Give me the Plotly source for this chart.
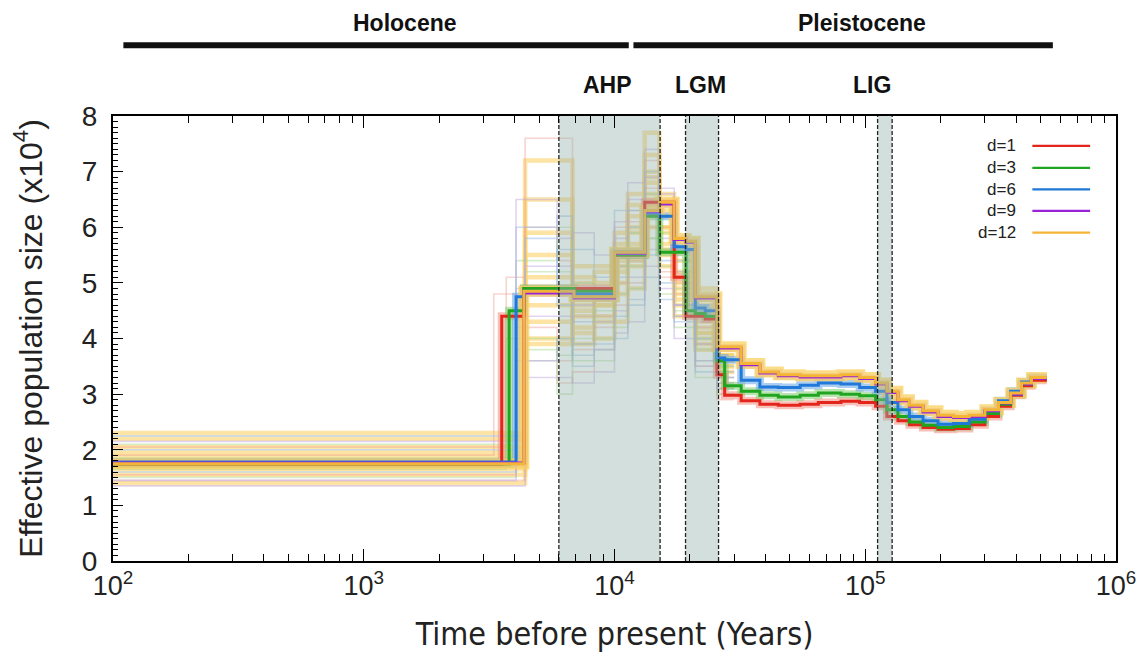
import plotly.graph_objects as go

# ---------------------------------------------------------------
# Step-wise effective population size (units of 10^4) through time
# ---------------------------------------------------------------

# start of each step (years before present) for the main estimates
T_MAIN = [100, 3550, 3800, 4050, 4350, 6900, 8300, 10000, 11300, 13200,
          15100, 17300, 19300, 21000, 23000, 25600, 27500, 32000, 38000, 45000,
          55000, 65000, 80000, 95000, 110000, 122000, 135000, 150000, 170000, 195000,
          225000, 260000, 300000, 340000, 380000, 420000, 460000]
T_MAIN_END = 530000

ne_d1 = [1.75, 4.40, 4.40, 4.40, 4.90, 4.90, 4.90, 5.50, 5.50, 6.45,
         6.45, 5.10, 4.40, 4.40, 4.35, 3.35, 2.98, 2.88, 2.82, 2.80,
         2.82, 2.85, 2.87, 2.85, 2.78, 2.60, 2.52, 2.45, 2.40, 2.37,
         2.38, 2.45, 2.60, 2.78, 2.98, 3.15, 3.25]
ne_d3 = [1.75, 1.75, 4.50, 4.50, 4.90, 4.85, 4.85, 5.50, 5.50, 6.20,
         5.55, 5.55, 4.50, 4.45, 4.40, 3.60, 3.15, 3.05, 2.98, 2.95,
         2.98, 3.02, 3.00, 2.97, 2.90, 2.72, 2.60, 2.50, 2.44, 2.40,
         2.42, 2.50, 2.65, 2.82, 3.00, 3.18, 3.28]
ne_d6 = [1.78, 1.78, 1.78, 4.75, 4.85, 4.80, 4.80, 5.55, 5.55, 6.25,
         6.20, 5.65, 5.60, 4.55, 4.50, 3.65, 3.62, 3.25, 3.13, 3.12,
         3.16, 3.20, 3.18, 3.12, 3.05, 2.85, 2.72, 2.60, 2.52, 2.46,
         2.47, 2.55, 2.70, 2.88, 3.05, 3.22, 3.30]
ne_d9 = [1.76, 1.76, 1.76, 1.76, 4.82, 4.73, 4.73, 5.53, 5.53, 6.28,
         6.42, 5.78, 5.73, 4.73, 4.73, 3.83, 3.83, 3.53, 3.38, 3.33,
         3.31, 3.31, 3.33, 3.28, 3.18, 3.03, 2.88, 2.78, 2.68, 2.60,
         2.58, 2.60, 2.70, 2.84, 3.00, 3.18, 3.28]
ne_d12 = [1.75, 1.75, 1.75, 1.75, 4.85, 4.75, 4.75, 5.55, 5.55, 6.30,
          6.45, 5.80, 5.75, 4.75, 4.75, 3.85, 3.85, 3.55, 3.40, 3.35,
          3.33, 3.33, 3.35, 3.30, 3.20, 3.05, 2.90, 2.80, 2.70, 2.62,
          2.60, 2.62, 2.72, 2.85, 3.02, 3.20, 3.30]

# bootstrap replicates (recent part of the history, where they spread out)
T_BOOT = [100, 3300, 3700, 4050, 4400, 5900, 6800, 8300, 10000, 11300,
          13200, 15100, 17300, 21000, 25600]
T_BOOT_END = 30000

boot_d1 = [
    [2.05, 2.05, 5.10, 5.10, 7.60, 7.60, 4.90, 4.90, 5.30, 6.10, 7.20, 5.20, 4.40, 3.90, 3.10],
    [1.55, 1.55, 1.55, 4.20, 4.20, 3.20, 3.40, 4.20, 5.00, 5.00, 6.00, 5.60, 4.60, 3.60, 3.00],
    [1.90, 4.80, 4.80, 4.80, 6.00, 5.40, 4.40, 4.40, 6.00, 6.30, 6.70, 5.10, 4.80, 4.20, 3.20],
    [1.45, 1.45, 1.45, 1.45, 3.60, 3.60, 3.80, 3.80, 4.60, 5.40, 6.20, 6.00, 5.00, 3.50, 2.90],
]
boot_d3 = [
    [2.10, 2.10, 2.10, 5.40, 5.40, 6.00, 5.00, 4.70, 5.50, 5.90, 6.60, 5.30, 4.90, 4.00, 3.30],
    [1.65, 1.65, 4.00, 4.00, 4.00, 3.70, 4.00, 4.50, 4.80, 5.50, 6.20, 5.90, 4.50, 3.80, 3.10],
    [1.85, 1.85, 1.85, 1.85, 5.20, 5.20, 3.60, 3.60, 4.20, 4.90, 5.80, 6.40, 5.20, 4.40, 3.40],
    [1.50, 1.50, 1.50, 3.80, 3.80, 3.00, 3.90, 4.00, 5.30, 5.30, 5.80, 4.80, 4.20, 3.30, 3.00],
]
boot_d6 = [
    [2.00, 2.00, 2.00, 6.00, 6.00, 6.20, 5.60, 5.10, 6.30, 6.30, 7.00, 6.20, 5.40, 4.60, 3.50],
    [1.60, 1.60, 1.60, 3.60, 3.60, 4.00, 3.50, 3.80, 4.40, 4.60, 5.50, 5.00, 4.30, 3.60, 3.20],
    [1.70, 1.70, 1.70, 4.90, 4.90, 5.60, 4.30, 4.70, 5.10, 6.00, 6.30, 5.40, 4.40, 4.00, 3.30],
    [2.25, 2.25, 2.25, 2.25, 5.80, 4.60, 3.70, 3.90, 4.00, 4.70, 5.10, 4.70, 4.60, 3.40, 3.10],
]
boot_d9 = [
    [1.45, 1.45, 1.45, 6.50, 6.50, 5.80, 5.90, 5.50, 6.10, 6.50, 7.40, 6.60, 5.50, 4.80, 3.60],
    [1.80, 1.80, 1.80, 1.80, 4.40, 4.40, 3.90, 4.30, 4.50, 5.10, 5.60, 5.80, 4.60, 3.90, 3.30],
    [1.35, 1.35, 1.35, 1.35, 3.30, 3.30, 3.20, 3.40, 4.10, 4.30, 5.30, 4.90, 4.00, 3.50, 3.10],
    [2.15, 2.15, 2.15, 2.15, 5.30, 5.30, 4.60, 4.90, 5.80, 6.80, 6.90, 6.70, 5.20, 4.30, 3.40],
]
boot_d12 = [
    [2.30, 2.30, 2.30, 2.30, 7.20, 7.20, 5.30, 5.30, 5.90, 6.60, 7.70, 6.60, 5.60, 4.90, 3.80],
    [2.20, 2.20, 2.20, 2.20, 6.50, 6.50, 5.00, 5.20, 5.70, 5.70, 7.30, 6.30, 5.20, 4.50, 3.70],
    [1.40, 1.40, 1.40, 1.40, 3.90, 3.90, 4.10, 4.00, 4.30, 4.90, 6.60, 6.00, 5.00, 4.10, 3.50],
    [2.05, 2.05, 2.05, 2.05, 5.50, 5.50, 4.40, 4.60, 5.20, 6.00, 7.00, 6.20, 5.40, 4.60, 3.60],
    [1.55, 1.55, 1.55, 1.55, 4.60, 4.60, 3.90, 4.30, 4.80, 5.30, 6.80, 5.70, 4.80, 3.90, 3.40],
    [1.95, 1.95, 1.95, 1.95, 5.10, 5.10, 4.60, 4.80, 5.50, 5.90, 6.20, 5.90, 4.90, 4.00, 3.70],
    [1.65, 1.65, 1.65, 1.65, 4.30, 4.30, 4.50, 4.40, 5.00, 5.60, 6.40, 5.50, 4.60, 4.20, 3.60],
    [1.88, 1.88, 1.88, 1.88, 5.90, 5.90, 5.10, 5.00, 5.60, 6.20, 6.00, 5.30, 4.40, 3.80, 3.50],
    [1.72, 1.72, 1.72, 1.72, 4.00, 4.00, 4.80, 4.60, 5.40, 5.40, 6.50, 6.00, 5.10, 4.30, 3.60],
    [1.80, 1.80, 1.80, 1.80, 4.90, 4.90, 4.20, 4.70, 5.30, 6.40, 6.90, 5.60, 4.70, 4.10, 3.70],
]

series_labels = ["d=1", "d=3", "d=6", "d=9", "d=12"]

# climatic periods (years before present)
AHP = [6000, 15200]
LGM = [19200, 26000]
LIG = [112000, 128000]
HOLOCENE = [110, 11400]
PLEISTOCENE = [11900, 560000]

x_tickvals = [1e2, 1e3, 1e4, 1e5, 1e6]
x_ticktext = ["10<sup>2</sup>", "10<sup>3</sup>", "10<sup>4</sup>", "10<sup>5</sup>", "10<sup>6</sup>"]
Y_MAX = 8

# ---------------------------------------------------------------
main_colors = ["#e3261c", "#1fa51f", "#2079d8", "#9b22d9", "#f4b436"]
band_colors = ["rgba(242,140,128,0.55)", "rgba(130,205,110,0.55)", "rgba(115,172,232,0.6)",
               "rgba(195,150,225,0.45)", "rgba(250,208,95,0.75)"]
boot_colors = ["rgba(240,160,150,0.45)", "rgba(160,215,140,0.45)", "rgba(150,188,230,0.5)",
               "rgba(195,170,225,0.5)", "rgba(252,210,105,0.6)"]
boot_widths = [1.6, 1.6, 1.6, 1.6, 4.5]
band_widths = [8, 8, 8, 8, 11]

main_values = [ne_d1, ne_d3, ne_d6, ne_d9, ne_d12]
boot_values = [boot_d1, boot_d3, boot_d6, boot_d9, boot_d12]


def step_xy(times, values, end):
    return list(times) + [end], list(values) + [values[-1]]


fig = go.Figure()

# bootstrap replicates, the wider yellow ones first so thin ones stay visible
for idx in (4, 0, 1, 2, 3):
    for rep in boot_values[idx]:
        xs, ys = step_xy(T_BOOT, rep, T_BOOT_END)
        fig.add_trace(go.Scatter(x=xs, y=ys, mode="lines", line_shape="hv",
                                 line=dict(color=boot_colors[idx], width=boot_widths[idx]),
                                 hoverinfo="skip", showlegend=False))

# soft bands beneath the main estimates
for vals, col, w in zip(main_values, band_colors, band_widths):
    xs, ys = step_xy(T_MAIN, vals, T_MAIN_END)
    fig.add_trace(go.Scatter(x=xs, y=ys, mode="lines", line_shape="hv",
                             line=dict(color=col, width=w),
                             hoverinfo="skip", showlegend=False))

# main estimates
for vals, col, name in zip(main_values, main_colors, series_labels):
    xs, ys = step_xy(T_MAIN, vals, T_MAIN_END)
    fig.add_trace(go.Scatter(x=xs, y=ys, mode="lines", line_shape="hv",
                             line=dict(color=col, width=3), name=name,
                             showlegend=False))

# shaded climatic periods with dashed edges
for lo, hi in (AHP, LGM, LIG):
    fig.add_trace(go.Scatter(x=[lo, hi, hi, lo, lo], y=[0, 0, Y_MAX, Y_MAX, 0],
                             mode="lines", fill="toself",
                             fillcolor="rgba(150,178,172,0.42)",
                             line=dict(width=0), hoverinfo="skip", showlegend=False))
    for edge in (lo, hi):
        fig.add_trace(go.Scatter(x=[edge, edge], y=[0, Y_MAX], mode="lines",
                                 line=dict(color="#222222", width=1.3, dash="4px,2px"),
                                 hoverinfo="skip", showlegend=False))

# epoch bars above the plot
shapes = []
for lo, hi in (HOLOCENE, PLEISTOCENE):
    shapes.append(dict(type="line", xref="x", yref="paper", x0=lo, x1=hi,
                       y0=1.159, y1=1.159, line=dict(color="#111111", width=6)))

annotations = []
label_font = dict(family="Liberation Sans, Arial, sans-serif", size=23, color="#111111")
for text, xp, yp in (("<b>Holocene</b>", 0.291, 1.21), ("<b>Pleistocene</b>", 0.747, 1.21),
                     ("<b>AHP</b>", 0.4935, 1.069), ("<b>LGM</b>", 0.586, 1.069),
                     ("<b>LIG</b>", 0.757, 1.069)):
    annotations.append(dict(text=text, x=xp, y=yp, xref="paper", yref="paper",
                            xanchor="center", yanchor="middle", showarrow=False,
                            font=label_font))

# legend: label on the left, coloured line on the right
legend_rows = [0.9327, 0.8834, 0.8352, 0.787, 0.7377]
for name, col, yp in zip(series_labels, main_colors, legend_rows):
    annotations.append(dict(text=name, x=0.9027, y=yp, xref="paper", yref="paper",
                            xanchor="right", yanchor="middle", showarrow=False,
                            font=dict(family="Liberation Sans, Arial, sans-serif",
                                      size=17, color="#222222")))
    shapes.append(dict(type="line", xref="paper", yref="paper", x0=0.9166, x1=0.9742,
                       y0=yp, y1=yp, line=dict(color=col, width=2.2)))

minor_x = [m * 10 ** e for e in range(2, 6) for m in range(2, 10)]

fig.update_layout(
    width=1148, height=658,
    margin=dict(l=113, r=28, t=116, b=96),
    paper_bgcolor="white", plot_bgcolor="white",
    shapes=shapes, annotations=annotations,
    showlegend=False,
    xaxis=dict(type="log", range=[2, 6], tickmode="array",
               tickvals=x_tickvals, ticktext=x_ticktext,
               ticks="inside", ticklen=12, tickwidth=1.3, tickcolor="black",
               minor=dict(tickmode="array", tickvals=minor_x, ticks="inside",
                          ticklen=7, tickwidth=1.2, tickcolor="black"),
               showline=True, linecolor="black", linewidth=2, mirror="allticks",
               showgrid=False, zeroline=False,
               tickfont=dict(family="Liberation Sans Narrow, Arial Narrow, sans-serif",
                             size=27, color="#222222"),
               title=dict(text="Time before present (Years)", standoff=22,
                          font=dict(family="DejaVu Sans Condensed, DejaVu Sans, sans-serif",
                                    size=32, color="#222222"))),
    yaxis=dict(range=[0, Y_MAX], dtick=1, tick0=0,
               ticks="inside", ticklen=10, tickwidth=1.3, tickcolor="black",
               minor=dict(dtick=0.1, ticks="inside", ticklen=5, tickwidth=1.2,
                          tickcolor="black"),
               showline=True, linecolor="black", linewidth=2, mirror=True,
               showgrid=False, zeroline=False, ticklabelstandoff=8,
               tickfont=dict(family="Liberation Sans Narrow, Arial Narrow, sans-serif",
                             size=28, color="#222222"),
               title=dict(text="Effective population size (x10<sup>4</sup>)", standoff=30,
                          font=dict(family="Liberation Sans, Arial, sans-serif",
                                    size=32, color="#222222"))),
)

fig.write_html("out.html")
